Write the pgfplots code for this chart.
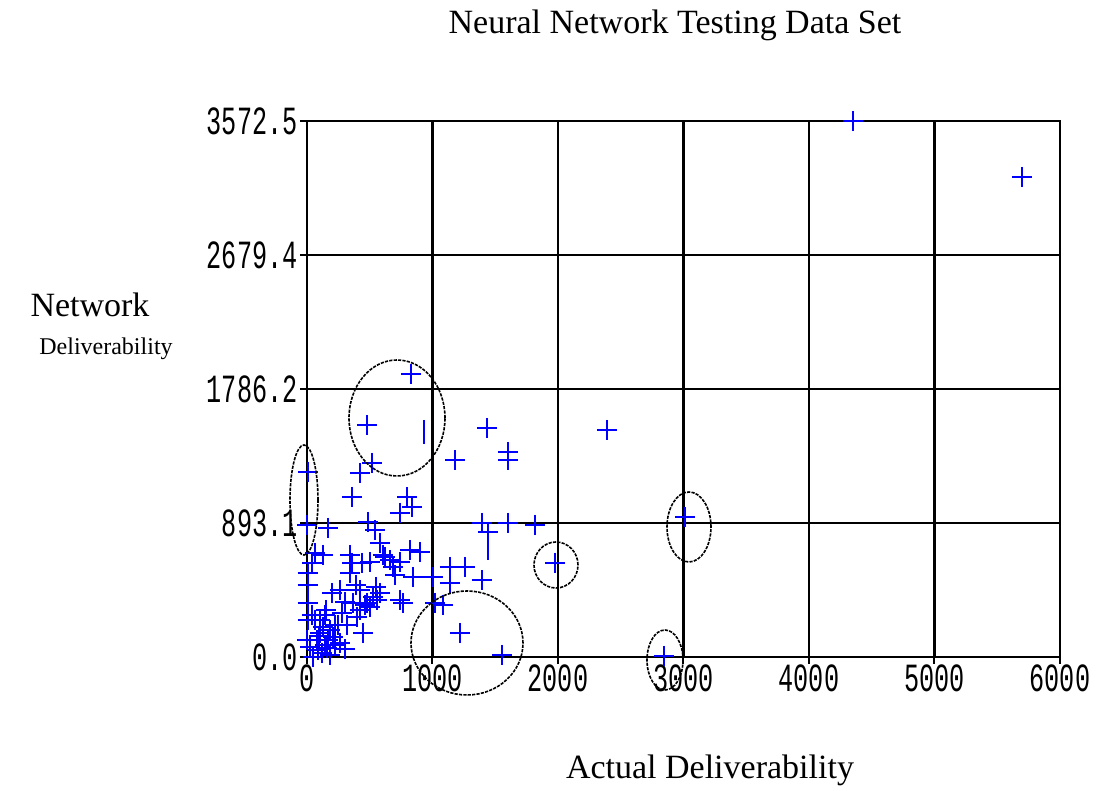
\documentclass[border=0pt]{standalone}
\usepackage{fontspec}
\usepackage{graphicx}
\usepackage{pgfplots}
\pgfplotsset{compat=1.18}
\setmainfont{Liberation Serif}
\newfontfamily\tickfont{Liberation Mono}
\newcommand\tl[1]{\scalebox{0.63}[1]{\tickfont\fontsize{20}{20}\selectfont #1}}
\begin{document}
\begin{tikzpicture}
\path[use as bounding box] (-153.5pt,-67pt) rectangle (395.5pt,328.5pt);
\begin{axis}[
  at={(0pt,0pt)}, anchor=south west,
  scale only axis, width=376.5pt, height=268pt,
  xmin=0, xmax=6000, ymin=0, ymax=3572.5,
  xtick={0,1000,2000,3000,4000,5000,6000},
  xticklabels={\tl{0},\tl{1000},\tl{2000},\tl{3000},\tl{4000},\tl{5000},\tl{6000}},
  ytick={0,893.1,1786.2,2679.4,3572.5},
  yticklabels={\tl{0.0},\tl{893.1},\tl{1786.2},\tl{2679.4},\tl{3572.5}},
  xtick pos=bottom, ytick pos=left,
  tick align=outside, major tick length=3.5pt,
  tick style={black, line width=1pt},
  grid=major, major grid style={black, line width=1.1pt},
  axis line style={black, line width=1.1pt},
  xticklabel style={inner sep=0pt},
  yticklabel style={inner sep=1pt},
  clip=false,
]
\addplot[only marks, mark=+, mark size=5pt, blue, line width=1pt] table {
x y
4351 3572
5697 3199
2390 1513
3012 933
1975 627
2845 7
1554 13
1219 160
829 1886
478 1546
1434 1526
1602 1366
1602 1313
1179 1313
10 1233
518 1293
422 1226
359 1066
797 1066
837 1000
741 960
0 880
167 860
486 900
542 846
1394 893
1442 833
1602 893
1817 880
64 693
127 680
40 627
343 680
359 627
343 560
438 627
502 633
582 760
606 680
661 646
685 600
821 713
900 700
622 667
741 633
845 533
1004 533
1139 600
1259 600
1139 493
1394 513
765 360
1020 360
1084 347
526 400
502 333
5 560
5 480
5 360
199 427
263 447
303 367
367 360
422 313
478 360
558 380
582 427
741 380
127 200
104 160
183 180
80 113
24 67
48 0
120 27
263 93
207 133
446 160
279 293
398 267
0 113
5 247
143 280
64 247
303 53
462 347
390 480
550 467
701 547
422 447
143 80
223 213
319 213
104 247
167 113
223 80
88 47
183 13
247 213
151 313
40 280
96 140
160 60
};
\addplot[only marks, mark=|, mark size=6pt, blue, line width=1pt] table {
x y
932 1500
1442 726
};
\end{axis}
\begin{scope}[black, line width=0.8pt, dash pattern=on 1.6pt off 0.6pt]
\draw (-1.5pt,78.5pt) ellipse [x radius=7pt, y radius=27.5pt];
\draw (45pt,119.5pt) ellipse [x radius=24pt, y radius=29pt];
\draw (80pt,7pt) ellipse [x radius=28pt, y radius=26pt];
\draw (124.5pt,46pt) ellipse [x radius=11pt, y radius=11.5pt];
\draw (191pt,65pt) ellipse [x radius=11pt, y radius=17.5pt];
\draw (179pt,-1.5pt) ellipse [x radius=9pt, y radius=15pt];
\end{scope}
\node[font=\fontsize{17}{17}\selectfont] at (184pt,316pt) {Neural Network Testing Data Set};
\node[font=\fontsize{17}{17}\selectfont] at (201.5pt,-56.5pt) {Actual Deliverability};
\node[font=\fontsize{17}{17}\selectfont] at (-108.5pt,176pt) {Network};
\node[font=\fontsize{12}{12}\selectfont] at (-100.5pt,154pt) {Deliverability};
\end{tikzpicture}
\end{document}
